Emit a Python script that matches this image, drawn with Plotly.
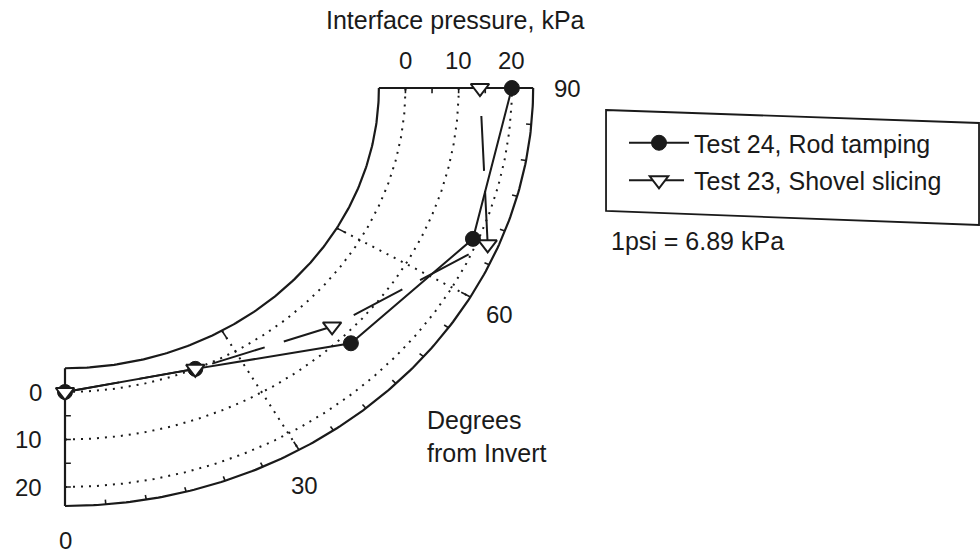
import numpy as np
import plotly.graph_objects as go

# Measurement stations around the pipe, degrees from invert
angles_deg = [0, 22.5, 45, 67.5, 90]
# Interface pressure at each station, kPa
test24_rod_tamping = [0, 0, 12, 19, 20]
test23_shovel_slicing = [0, 0, 7, 22, 14]

radial_labels = [0, 10, 20]          # labelled pressures (dotted rings)
radial_minor = [0, 5, 10, 15, 20]    # tick marks on the end radii
angular_labels = [0, 30, 60, 90]     # labelled angles
angular_minor = list(range(0, 91, 5))

P_MIN, P_MAX = -5, 24   # pressure at the pipe wall and at the outer rim
WALL = 59               # radius of the pipe wall, in kPa units

# Page geometry: pole of the quadrant and pixel scale of each axis
W, H = 980, 556
POLE_X, POLE_Y = 65, 88
KX, KY = 5.32, 4.75

FONT = "Liberation Sans, Arial, Helvetica, sans-serif"
INK = "#1a1a1a"


def project(theta, p):
    """Quadrant projection: 0 deg points down, 90 deg points right."""
    t = np.radians(np.asarray(theta, dtype=float))
    rho = WALL + (np.asarray(p, dtype=float) - P_MIN)
    return rho * np.sin(t), -rho * np.cos(t)


def rho_of(p):
    return WALL + (p - P_MIN)


def arc(p, n=181):
    th = np.linspace(0, 90, n)
    return project(th, np.full(n, p))


def segments(pairs):
    xs, ys = [], []
    for (x0, y0), (x1, y1) in pairs:
        xs += [x0, x1, None]
        ys += [y0, y1, None]
    return xs, ys


fig = go.Figure()


def add_line(x, y, width=2.0, dash="solid"):
    fig.add_trace(go.Scatter(
        x=x, y=y, mode="lines", showlegend=False, hoverinfo="skip",
        line=dict(color=INK, width=width, dash=dash)))


# Dotted rings at the labelled pressures
for p in radial_labels:
    ax, ay = arc(p)
    add_line(ax, ay, width=2, dash="2px,6px")

# Dotted radii at 30 and 60 degrees
for th in angular_labels[1:-1]:
    rx, ry = project([th, th], [P_MIN, P_MAX])
    add_line(rx, ry, width=2, dash="2px,6px")

# Pipe wall and outer rim
for p in (P_MIN, P_MAX):
    ax, ay = arc(p)
    add_line(ax, ay, width=2.2)

# End radii at invert and springline
for th in (0, 90):
    rx, ry = project([th, th], [P_MIN, P_MAX])
    add_line(rx, ry, width=2.2)

# Angular ticks: inward along the rim, outward from the wall at 30/60
tick_pairs = []
for th in angular_minor[1:-1]:
    major = th in angular_labels
    length = 2.0 if major else 1.0
    a = project([th, th], [P_MAX, P_MAX - length])
    tick_pairs.append(((a[0][0], a[1][0]), (a[0][1], a[1][1])))
    if major:
        b = project([th, th], [P_MIN, P_MIN + 2.0])
        tick_pairs.append(((b[0][0], b[1][0]), (b[0][1], b[1][1])))

# Radial ticks on both end radii, pointing into the band
for p in radial_minor:
    r = rho_of(p)
    dth = np.degrees(1.1 / r)
    a = project([0, dth], [p, p])
    tick_pairs.append(((a[0][0], a[1][0]), (a[0][1], a[1][1])))
    b = project([90, 90 - dth], [p, p])
    tick_pairs.append(((b[0][0], b[1][0]), (b[0][1], b[1][1])))

tx, ty = segments(tick_pairs)
add_line(tx, ty, width=1.6)

# Measured pressure distributions
x24, y24 = project(angles_deg, test24_rod_tamping)
fig.add_trace(go.Scatter(
    x=x24, y=y24, mode="lines+markers", name="Test 24, Rod tamping",
    legendgroup="t24",
    line=dict(color=INK, width=2),
    marker=dict(symbol="circle", size=15, color=INK,
                line=dict(color=INK, width=1)),
    hovertemplate="%{text}<extra>Test 24</extra>",
    text=[f"{a} deg: {p} kPa" for a, p in zip(angles_deg, test24_rod_tamping)]))

x23, y23 = project(angles_deg, test23_shovel_slicing)
fig.add_trace(go.Scatter(
    x=x23, y=y23, mode="lines+markers", name="Test 23, Shovel slicing",
    legendgroup="t23",
    line=dict(color=INK, width=2, dash="55px,20px"),
    marker=dict(symbol="triangle-down", size=16, color="white",
                line=dict(color=INK, width=2)),
    hovertemplate="%{text}<extra>Test 23</extra>",
    text=[f"{a} deg: {p} kPa" for a, p in zip(angles_deg, test23_shovel_slicing)]))

annotations = []
num = dict(family=FONT, size=24, color=INK)
txt = dict(family=FONT, size=25, color=INK)

# Pressure labels along the springline radius (top) and invert radius (left)
for p in radial_labels:
    xp, _ = project(90, p)
    annotations.append(dict(x=float(xp), y=0, xref="x", yref="y", text=str(p),
                            showarrow=False, yshift=28, yanchor="middle",
                            font=num))
    _, yp = project(0, p)
    annotations.append(dict(x=0, y=float(yp), xref="x", yref="y", text=str(p),
                            showarrow=False, xanchor="right", yanchor="middle",
                            xshift=-21, font=num))

# Angle labels just outside the rim
for th in angular_labels:
    xa, ya = project(th, P_MAX)
    t = np.radians(th)
    annotations.append(dict(x=float(xa), y=float(ya), xref="x", yref="y",
                            text=str(th), showarrow=False,
                            xanchor="center", yanchor="middle",
                            xshift=34 * np.sin(t) - (12 if th == 30 else 0),
                            yshift=-34 * np.cos(t) - (6 if th == 30 else 0),
                            font=num))

annotations += [
    dict(x=455 / W, y=1 - 20 / H, xref="paper", yref="paper",
         xanchor="center", yanchor="middle",
         text="Interface pressure, kPa", showarrow=False, font=txt),
    dict(x=425 / W, y=1 - 436 / H, xref="paper", yref="paper",
         text="Degrees<br>from Invert", showarrow=False, xanchor="left",
         yanchor="middle", align="left", font=txt),
    dict(x=609 / W, y=1 - 241 / H, xref="paper", yref="paper",
         text="1psi = 6.89 kPa", showarrow=False, xanchor="left",
         yanchor="middle", font=txt),
]

# Legend frame (slightly skewed, as on the printed page)
corners = [(606, 110), (979, 123), (979, 225), (606, 211)]
path = "M " + " L ".join(f"{x / W:.4f},{1 - y / H:.4f}" for x, y in corners) + " Z"

fig.update_layout(
    width=W, height=H,
    margin=dict(l=0, r=0, t=0, b=0),
    paper_bgcolor="white", plot_bgcolor="white",
    font=dict(family=FONT, size=24, color=INK),
    xaxis=dict(range=[-POLE_X / KX, (W - POLE_X) / KX], visible=False,
               fixedrange=True),
    yaxis=dict(range=[-(H - POLE_Y) / KY, POLE_Y / KY], visible=False,
               fixedrange=True),
    annotations=annotations,
    shapes=[dict(type="path", path=path, xref="paper", yref="paper",
                 line=dict(color=INK, width=1.8))],
    legend=dict(x=624 / W, y=1 - 120 / H, xanchor="left", yanchor="top",
                bgcolor="rgba(0,0,0,0)", borderwidth=0,
                font=dict(family=FONT, size=25, color=INK),
                tracegroupgap=2, itemwidth=60),
    showlegend=True,
)

fig.write_html("out.html")
